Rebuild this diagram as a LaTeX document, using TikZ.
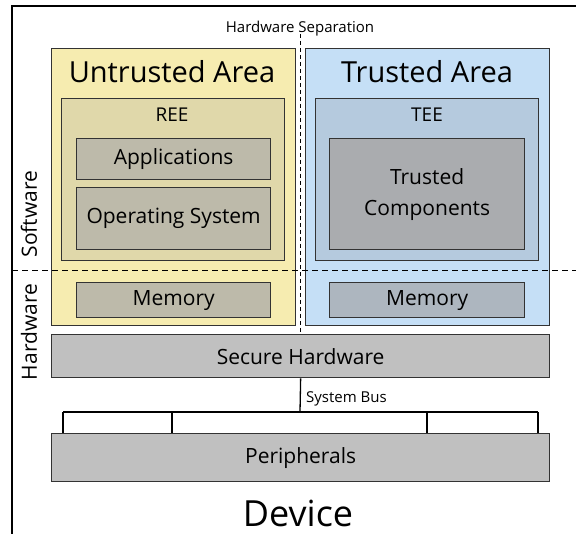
\documentclass[tikz,border=0pt]{standalone}
\usepackage{fontspec}
\setmainfont{Open Sans}

\definecolor{areaYellow}{RGB}{246,236,176}
\definecolor{reeYellow}{RGB}{224,216,170}
\definecolor{appGray}{RGB}{189,186,170}
\definecolor{areaBlue}{RGB}{197,223,246}
\definecolor{teeBlue}{RGB}{181,202,222}
\definecolor{compGray}{RGB}{170,172,175}
\definecolor{memBlue}{RGB}{173,182,191}
\definecolor{hwGray}{RGB}{192,192,192}

\tikzstyle{frame} = [draw, line width=2.4pt, black]
\tikzstyle{box} = [draw=black!80, line width=1.3pt, anchor=north west, inner sep=0pt, font=\fontsize{21}{24}\selectfont]
\tikzstyle{title} = [anchor=base, inner sep=0pt]
\tikzstyle{side label} = [rotate=90, inner sep=0pt, font=\fontsize{21}{24}\selectfont]
\tikzstyle{layer line} = [draw, line width=1pt, dash pattern=on 6pt off 4pt]
\tikzstyle{halo} = [draw, white, line width=4pt]
\tikzstyle{sep line} = [draw, line width=1pt, dash pattern=on 4pt off 3pt]
\tikzstyle{bus} = [draw, line width=1.3pt, black]
\def\areaBoxes{{(51,48)/244/277/untrusted/areaYellow}, {(305,48)/244/277/trusted/areaBlue}, {(61,98)/223/162/ree/reeYellow}, {(315,98)/223/162/tee/teeBlue}}
\def\innerBoxes{{(76,138)/194/41/apps/appGray/Applications}, {(76,187)/194/62/os/appGray/Operating System}, {(76,282)/194/35/memL/appGray/Memory}, {(329,282)/195/35/memR/memBlue/Memory}, {(51,334)/498/43/hw/hwGray/Secure Hardware}, {(51,433)/498/48/periph/hwGray/Peripherals}}
\def\titles{{(172,83)/29/untrustedTitle/Untrusted Area}, {(427,83)/29/trustedTitle/Trusted Area}, {(172,121.5)/19/reeTitle/REE}, {(427,121.5)/19/teeTitle/TEE}, {(300,32.5)/15/sepTitle/Hardware Separation}, {(298,526)/36/deviceTitle/Device}}

\begin{document}
\begin{tikzpicture}[x=1pt,y=-1pt]

  \useasboundingbox (0,0) rectangle (576,534);
  \path[frame] (12,6) rectangle (600,570);

  \foreach \pos/\w/\h/\name/\col in \areaBoxes {
    \node[box, fill=\col, minimum width=\w, minimum height=\h] (\name) at \pos {};
    }

  \foreach \pos/\w/\h/\name/\col/\txt in \innerBoxes {
    \node[box, fill=\col, minimum width=\w, minimum height=\h] (\name) at \pos {\txt};
    }

  \node[box, fill=compGray, minimum width=195, minimum height=111, align=center,
        font=\fontsize{21}{31}\selectfont] (comp) at (329,138) {Trusted\\Components};

  \foreach \pos/\size/\name/\txt in \titles {
    \node[title, font=\fontsize{\size}{\size}\selectfont] (\name) at \pos {\txt};
    }

  \node[side label] (swLabel) at (29,214) {Software};
  \node[side label] (hwLabel) at (29,332) {Hardware};

  % software / hardware border
  \coordinate (layerL) at (12,271);
  \coordinate (layerR) at (576,271);
  \path[layer line] (layerL) -- (layerR);

  % hardware separation
  \coordinate (sepTop) at (300,34);
  \path[halo] (sepTop) -- (sepTop |- hw.north);
  \path[sep line] (sepTop) -- (sepTop |- hw.north);

  % system bus
  \coordinate (busMid) at (300,412);
  \coordinate (busL) at (63,412);
  \coordinate (busR) at (538,412);
  \path[bus] (hw.south) -- (busMid);
  \path[bus] (busL) -- (busR);
  \foreach \x in {63,172,427,538} {
    \coordinate (drop) at (\x,412);
    \path[bus] (drop) -- (drop |- periph.north);
    }
  \node[anchor=base west, inner sep=0pt, font=\fontsize{15}{16}\selectfont] (busLabel) at (306,403) {System Bus};

\end{tikzpicture}
\end{document}
